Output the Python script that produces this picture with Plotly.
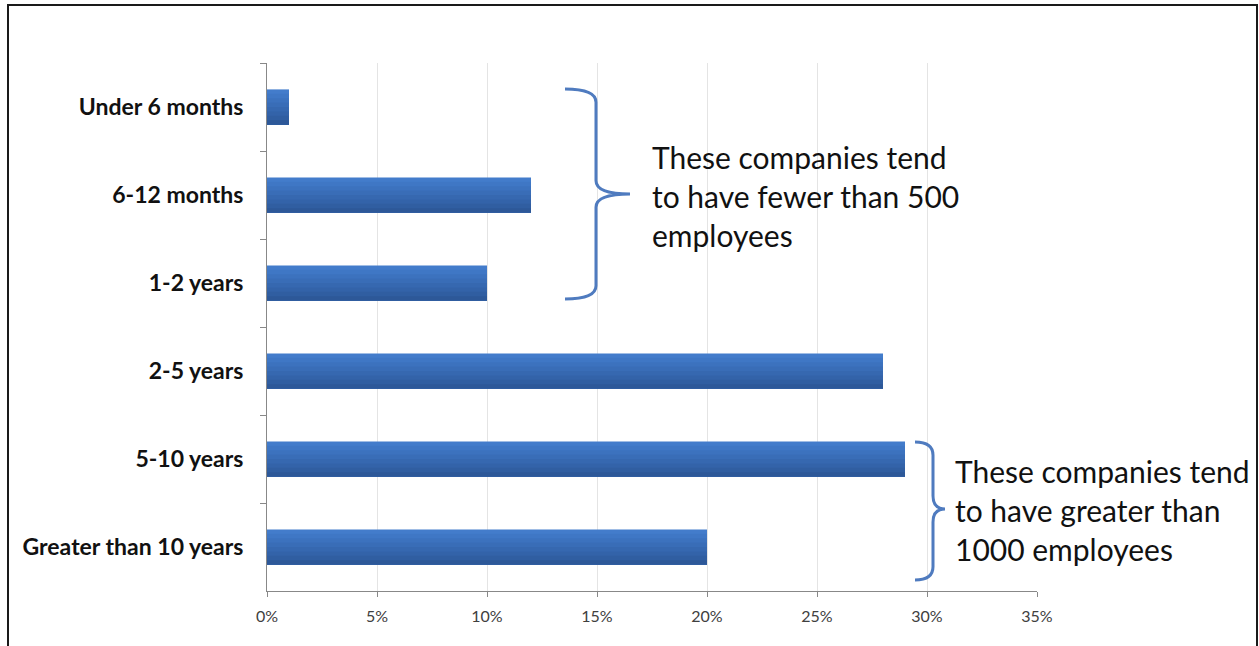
import plotly.graph_objects as go

categories = ["Under 6 months", "6-12 months", "1-2 years", "2-5 years", "5-10 years", "Greater than 10 years"]
values = [1, 12, 10, 28, 29, 20]
x_ticks = [0, 5, 10, 15, 20, 25, 30, 35]
x_tick_labels = ["0%", "5%", "10%", "15%", "20%", "25%", "30%", "35%"]
note_small = "These companies tend<br>to have fewer than 500<br>employees"
note_large = "These companies tend<br>to have greater than<br>1000 employees"

BRACE = "#4F7BBF"
# vertical gradient of the bars, top (light) to bottom (dark)
grad = ["#437CCB", "#3F77C5", "#3C72BE", "#396DB7", "#3668B0", "#3363A9", "#305EA1", "#2D5898"]

fig = go.Figure()
BAR_W = 0.4
n = len(grad)
sw = BAR_W / n
for i, c in enumerate(grad):
    # each layer starts lower and runs to the bottom edge, so no seams appear
    fig.add_trace(go.Bar(
        x=values, y=categories, orientation="h",
        marker=dict(color=c, line=dict(width=0)),
        width=BAR_W - i * sw, offset=-BAR_W / 2 + i * sw,
        hoverinfo="x+y" if i == 0 else "skip",
    ))

L, R, T, B = 267, 222, 63, 55
W, H = 1259, 646
pw, ph = W - L - R, H - T - B

def px2x(px):
    return (px - L) / pw * 35.0

def py2y(py):
    return (py - T) / ph * 6 - 0.5

def brace(x_end, x_mid, x_tip, y_top, y_tip, y_bot):
    r = 0.15
    xe, xm, xt = px2x(x_end), px2x(x_mid), px2x(x_tip)
    yt, yc, yb = py2y(y_top), py2y(y_tip), py2y(y_bot)
    return (f"M {xe},{yt} Q {xm},{yt} {xm},{yt + r} "
            f"L {xm},{yc - r} Q {xm},{yc} {xt},{yc} "
            f"Q {xm},{yc} {xm},{yc + r} "
            f"L {xm},{yb - r} Q {xm},{yb} {xe},{yb}")

shapes = [
    dict(type="path", xref="x", yref="y",
         path=brace(565, 596, 630, 89, 194, 299),
         line=dict(color=BRACE, width=3)),
    dict(type="path", xref="x", yref="y",
         path=brace(915, 933, 945, 442, 509, 580),
         line=dict(color=BRACE, width=3)),
    dict(type="rect", xref="paper", yref="paper",
         x0=(8 - L) / pw, x1=(1257 - L) / pw,
         y0=(591 - 700) / ph, y1=(591 - 5) / ph,
         line=dict(color="#1a1a1a", width=2), layer="above"),
]

annotations = [
    dict(xref="x", yref="y", x=px2x(650), y=py2y(196), text=note_small,
         showarrow=False, xanchor="left", yanchor="middle", align="left",
         font=dict(family="Lato", size=30, color="#111111")),
    dict(xref="x", yref="y", x=px2x(953), y=py2y(510), text=note_large,
         showarrow=False, xanchor="left", yanchor="middle", align="left",
         font=dict(family="Lato", size=30, color="#111111")),
]

fig.update_layout(
    width=W, height=H,
    margin=dict(l=L, r=R, t=T, b=B, pad=0),
    paper_bgcolor="white", plot_bgcolor="white",
    showlegend=False,
    barmode="overlay",
    shapes=shapes, annotations=annotations,
    xaxis=dict(
        range=[0, 35], tickvals=x_ticks, ticktext=x_tick_labels,
        showgrid=True, gridcolor="#E4E4E4", gridwidth=1,
        showline=True, linecolor="#888888", linewidth=1,
        ticks="outside", ticklen=5, tickcolor="#888888",
        tickfont=dict(family="Lato", size=16, color="#404040"),
        ticklabelstandoff=6,
        zeroline=False, fixedrange=True,
    ),
    yaxis=dict(
        categoryorder="array", categoryarray=categories,
        autorange=False, range=[5.5, -0.5],
        showline=True, linecolor="#888888", linewidth=1,
        ticks="outside", ticklen=6, tickcolor="#888888",
        tickson="boundaries", showgrid=False,
        tickfont=dict(family="Lato", size=23, color="#111111", weight="bold"),
        ticklabelstandoff=18, fixedrange=True,
    ),
)

fig.write_html("out.html")
